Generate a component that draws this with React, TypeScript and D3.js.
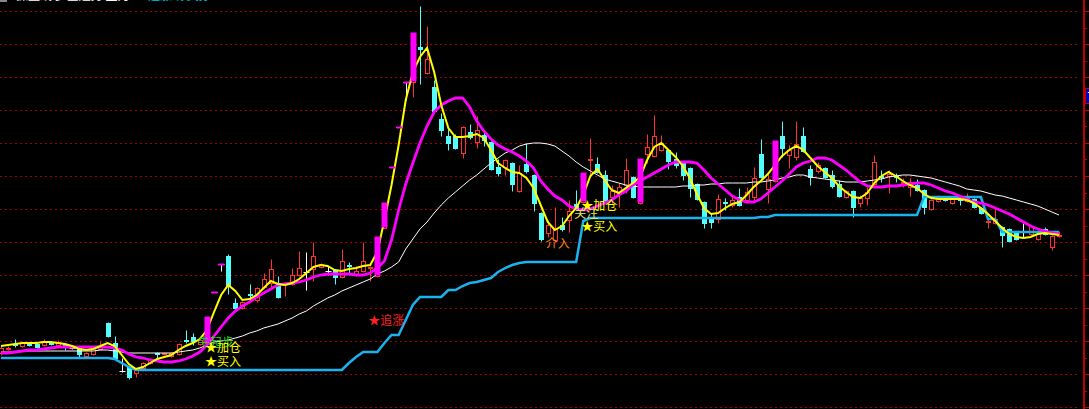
import React from 'react';
import * as d3 from 'd3';

const W = 1089;
const H = 409;

// ---- Candles (price) ----
const openP = [4.47,4.51,4.56,4.54,4.57,4.56,4.55,4.58,4.55,4.56, 4.52,4.52,4.44,4.46,4.51,4.77,4.57,4.29,4.33,4.27,
  4.32,4.37,4.47,4.46,4.44,4.46,4.60,4.63,4.56,4.57, 5.08,5.36,5.44,4.97,4.92,5.06,5.00,5.13,5.17,5.17,
  5.16,5.16,5.25,5.28,5.31,5.33,5.29,5.30,5.23,5.35, 5.25,5.29,5.32,5.24,5.72,6.33,6.73,7.18,7.18,7.53,
  7.27,7.13,6.81,6.64,6.64,6.47,6.68,6.58,6.65,6.58, 6.33,6.33,6.37,6.09,6.36,6.25,5.87,5.67,5.60,5.75,
  5.80,5.96,5.98,6.40,6.36,6.25,6.03,6.06,6.15,6.23, 5.97,6.46,6.44,6.50,6.50,6.41,6.37,6.32,6.16,5.98,
  5.83,5.81,5.98,5.95,6.03,6.00,6.03,6.46,6.11,6.19, 6.64,6.45,6.43,6.64,6.31,6.29,6.32,6.25,6.16,6.03,
  6.09,5.97,6.02,6.16,6.24,6.24,6.24,6.17,6.13,6.15, 6.10,5.91,5.99,6.03,5.97,6.01,5.99,6.01,5.92,5.78,
  5.77,5.73,5.71,5.67,5.68,5.66,5.61,5.71,5.53,5.64];
const highP = [4.54,4.54,4.61,4.58,4.58,4.57,4.61,4.59,4.60,4.57, 4.53,4.53,4.48,4.53,4.59,4.78,4.64,4.42,4.34,4.31,
  4.38,4.42,4.48,4.48,4.48,4.57,4.70,4.67,4.61,4.83, 5.08,5.36,5.46,5.02,4.99,5.16,5.13,5.27,5.41,5.24,
  5.18,5.32,5.49,5.48,5.58,5.37,5.34,5.31,5.51,5.38, 5.34,5.58,5.34,5.63,5.97,6.33,6.73,7.18,7.67,7.94,
  7.74,7.20,6.87,6.72,6.66,6.74,6.76,6.84,6.70,6.59, 6.41,6.41,6.38,6.35,6.57,6.26,5.88,5.80,5.93,5.83,
  6.00,6.10,6.27,6.62,6.43,6.30,6.15,6.17,6.42,6.24, 6.41,6.66,6.85,6.65,6.51,6.48,6.38,6.33,6.17,5.99,
  5.87,6.06,6.02,6.05,6.12,6.13,6.33,6.61,6.27,6.59, 6.79,6.55,6.79,6.73,6.35,6.38,6.33,6.30,6.20,6.10,
  6.10,6.05,6.13,6.45,6.30,6.30,6.27,6.22,6.22,6.21, 6.11,6.01,6.05,6.04,6.04,6.03,6.07,6.02,5.93,5.82,
  5.93,5.74,5.72,5.68,5.77,5.75,5.70,5.73,5.65,5.69];
const lowP = [4.45,4.50,4.53,4.53,4.54,4.52,4.54,4.55,4.54,4.50, 4.51,4.43,4.43,4.45,4.50,4.63,4.41,4.28,4.21,4.23,
  4.31,4.36,4.42,4.45,4.43,4.45,4.57,4.55,4.55,4.56, 5.08,5.29,5.06,4.88,4.91,4.98,4.98,5.12,5.13,5.02,
  5.04,5.15,5.24,5.10,5.19,5.32,5.25,5.16,5.22,5.25, 5.24,5.28,5.19,5.23,5.72,6.33,6.73,7.00,7.03,7.16,
  7.26,6.88,6.64,6.50,6.51,6.42,6.61,6.52,6.54,6.30, 6.24,6.25,6.09,6.08,6.27,5.89,5.59,5.63,5.58,5.69,
  5.68,5.91,5.97,6.23,6.27,5.99,5.97,5.93,6.07,6.02, 5.96,6.37,6.43,6.49,6.31,6.32,6.20,6.03,6.00,5.72,
  5.72,5.77,5.90,5.93,5.94,5.97,5.98,6.22,5.97,6.18, 6.43,6.32,6.40,6.48,6.15,6.27,6.22,6.12,6.03,6.02,
  5.83,5.93,5.95,6.15,6.18,6.07,6.18,6.13,6.04,6.09, 5.86,5.90,5.98,5.99,5.96,5.95,5.98,5.92,5.86,5.72,
  5.76,5.53,5.58,5.60,5.63,5.65,5.60,5.65,5.50,5.63];
const closeP = [4.52,4.52,4.55,4.57,4.55,4.53,4.59,4.56,4.58,4.53, 4.52,4.46,4.47,4.52,4.54,4.64,4.42,4.29,4.23,4.30,
  4.37,4.41,4.46,4.47,4.47,4.56,4.59,4.59,4.60,4.83, 5.08,5.36,5.14,4.92,4.98,5.05,5.12,5.21,5.31,5.03,
  5.17,5.25,5.32,5.28,5.44,5.36,5.29,5.23,5.39,5.34, 5.29,5.39,5.33,5.63,5.97,6.33,6.73,7.18,7.67,7.51,
  7.41,6.89,6.70,6.57,6.52,6.73,6.63,6.70,6.60,6.31, 6.27,6.40,6.16,6.27,6.29,5.97,5.61,5.75,5.72,5.71,
  5.89,5.92,6.27,6.41,6.28,6.00,6.09,6.13,6.30,6.03, 6.41,6.53,6.64,6.57,6.39,6.35,6.25,6.12,6.01,5.77,
  5.78,6.01,5.97,6.00,5.95,6.08,6.22,6.23,6.21,6.59, 6.52,6.50,6.56,6.49,6.23,6.35,6.23,6.14,6.04,6.09,
  5.93,6.02,6.08,6.38,6.23,6.26,6.23,6.18,6.18,6.10, 5.93,6.00,6.02,6.00,6.01,6.00,6.02,5.93,5.87,5.79,
  5.81,5.65,5.59,5.61,5.68,5.74,5.66,5.66,5.64,5.65];

// days highlighted by the strong-rise bar indicator
const strongUpDays = [29, 30, 31, 53, 54, 55, 56, 57, 58, 82, 90, 109];

// ---- Indicator lines (price) ----
const yellowLine = [4.54,4.55,4.56,4.57,4.57,4.57,4.58,4.58,4.57,4.56, 4.54,4.51,4.50,4.51,4.54,4.57,4.54,4.45,4.36,4.31,
  4.33,4.37,4.41,4.43,4.45,4.50,4.54,4.57,4.61,4.70, 4.88,5.05,5.15,5.09,5.00,5.01,5.05,5.12,5.19,5.16,
  5.15,5.17,5.21,5.27,5.33,5.35,5.34,5.30,5.29,5.31, 5.32,5.34,5.35,5.48,5.80,6.15,6.55,7.00,7.28,7.43,
  7.52,7.28,6.95,6.72,6.63,6.63,6.64,6.66,6.62,6.50, 6.37,6.32,6.28,6.27,6.22,6.12,5.95,5.78,5.70,5.74,
  5.84,5.92,6.05,6.24,6.31,6.20,6.10,6.07,6.12,6.17, 6.23,6.40,6.53,6.57,6.50,6.43,6.34,6.22,6.06,5.92,
  5.86,5.87,5.92,5.96,5.98,6.05,6.13,6.19,6.26,6.35, 6.44,6.50,6.54,6.50,6.42,6.34,6.28,6.22,6.14,6.08,
  6.03,6.02,6.07,6.17,6.24,6.28,6.24,6.19,6.15,6.12, 6.06,6.02,6.01,6.01,6.01,6.01,6.00,5.97,5.92,5.86,
  5.79,5.72,5.66,5.63,5.62,5.63,5.66,5.67,5.66,5.65];
const magentaLine = [4.47,4.47,4.48,4.49,4.50,4.50,4.51,4.52,4.53,4.53, 4.53,4.53,4.53,4.53,4.53,4.53,4.52,4.50,4.46,4.43,
  4.42,4.40,4.39,4.38,4.38,4.39,4.41,4.44,4.48,4.55, 4.64,4.73,4.82,4.89,4.94,4.98,5.03,5.07,5.11,5.15,
  5.16,5.17,5.18,5.20,5.23,5.25,5.26,5.26,5.26,5.26, 5.25,5.25,5.27,5.32,5.39,5.60,5.90,6.16,6.37,6.57,
  6.74,6.88,6.95,6.99,7.02,7.02,6.93,6.79,6.69,6.61, 6.55,6.51,6.48,6.44,6.39,6.32,6.19,6.11,6.04,6.00,
  5.94,5.91,5.90,5.91,5.94,5.97,6.00,6.05,6.09,6.15, 6.19,6.23,6.27,6.31,6.35,6.38,6.38,6.38,6.37,6.30,
  6.22,6.16,6.10,6.04,6.00,5.98,5.98,6.01,6.07,6.13, 6.19,6.26,6.33,6.37,6.39,6.42,6.42,6.40,6.35,6.30,
  6.24,6.18,6.14,6.13,6.13,6.14,6.14,6.15,6.16,6.17, 6.17,6.15,6.12,6.09,6.07,6.04,6.01,5.98,5.97,5.95,
  5.92,5.89,5.86,5.82,5.78,5.74,5.71,5.69,5.67,5.66];
const whiteLine = [4.48,4.48,4.48,4.49,4.49,4.49,4.49,4.49,4.49,4.49, 4.49,4.49,4.49,4.49,4.50,4.50,4.49,4.48,4.47,4.47,
  4.47,4.47,4.47,4.47,4.47,4.48,4.49,4.50,4.52,4.55, 4.58,4.59,4.60,4.62,4.64,4.67,4.69,4.72,4.74,4.76,
  4.79,4.82,4.86,4.89,4.94,4.98,5.02,5.05,5.09,5.12, 5.15,5.18,5.21,5.26,5.29,5.33,5.38,5.51,5.61,5.71,
  5.78,5.87,5.95,6.02,6.08,6.14,6.20,6.25,6.31,6.37, 6.42,6.47,6.50,6.54,6.56,6.57,6.57,6.56,6.54,6.49,
  6.44,6.38,6.33,6.29,6.25,6.21,6.19,6.17,6.15,6.14, 6.13,6.13,6.13,6.13,6.13,6.13,6.14,6.14,6.15,6.15,
  6.16,6.16,6.17,6.17,6.17,6.17,6.18,6.18,6.19,6.20, 6.22,6.23,6.25,6.25,6.23,6.22,6.21,6.20,6.19,6.18,
  6.18,6.18,6.19,6.20,6.21,6.23,6.24,6.25,6.25,6.24, 6.23,6.22,6.20,6.18,6.16,6.14,6.11,6.10,6.09,6.07,
  6.05,6.04,6.02,6.00,5.98,5.96,5.94,5.91,5.88,5.85];
const stopLine = [4.42,4.42,4.42,4.42,4.42,4.42,4.42,4.42,4.42,4.42, 4.42,4.42,4.42,4.42,4.42,4.42,4.41,4.37,4.33,4.30,
  4.30,4.30,4.30,4.30,4.30,4.30,4.30,4.30,4.30,4.30, 4.30,4.30,4.30,4.30,4.30,4.30,4.30,4.30,4.30,4.30,
  4.30,4.30,4.30,4.30,4.30,4.30,4.30,4.30,4.30,4.37, 4.43,4.48,4.48,4.48,4.57,4.65,4.65,4.80,4.95,5.03,
  5.03,5.03,5.03,5.10,5.10,5.14,5.17,5.18,5.20,5.22, 5.28,5.32,5.35,5.37,5.38,5.38,5.38,5.38,5.38,5.38,
  5.38,5.38,5.79,5.82,5.82,5.82,5.82,5.82,5.82,5.82, 5.82,5.82,5.82,5.82,5.82,5.82,5.82,5.82,5.82,5.82,
  5.82,5.82,5.82,5.82,5.82,5.82,5.82,5.83,5.83,5.85, 5.85,5.85,5.85,5.85,5.85,5.85,5.85,5.85,5.85,5.85,
  5.85,5.85,5.85,5.85,5.85,5.85,5.85,5.85,5.85,5.85, 6.03,6.03,6.03,6.03,6.03,6.03,6.03,6.03,6.03,5.81,
  5.81,5.68,5.68,5.68,5.68,5.68,5.68,5.68,5.68,5.68];

// horizontal reference levels (dotted grid)
const gridPrices = [7.89, 7.56, 7.23, 6.90, 6.57, 6.24, 5.91, 5.58, 5.25, 4.92, 4.59, 4.26, 3.93];

// signal texts: [day index, price, text, colour]
const signalDay = [28, 29, 29, 52, 77, 81, 82, 82];
const signalPrice = [4.53, 4.48, 4.34, 4.75, 5.52, 5.82, 5.90, 5.69];
const signalText = ['牛起步', '★加仓', '★买入', '★追涨', '介入', '关注', '★加仓', '★买入'];
const signalColor = ['#22DD22', '#FFFF00', '#FFFF00', '#FF2020', '#F08A10', '#E6E070', '#FFFF00', '#FFFF00'];

const markerLabel = '7.05';

const RED = '#FF3232';
const CYAN = '#54FCFC';
const MAGENTA = '#FF00FF';
const YELLOW = '#FFFF00';
const BLUE = '#1CB2EE';
const GRID = '#A80000';
const CJK = '"Noto Sans CJK SC", "Noto Sans", sans-serif';

export default function App() {
  const n = closeP.length;
  const x = d3.scaleLinear().domain([0, n - 1]).range([1, 1059]);
  const y = d3.scaleLinear().domain([3.91, 8.0]).range([H, 0]);
  const px = (i: number) => Math.round(x(i)) + 0.5;
  const py = (v: number) => Math.round(y(v)) + 0.5;

  const mk = (arr: number[]) =>
    d3.line<number>().x((_, i) => x(i)).y((v) => y(v)).curve(d3.curveLinear)(arr) || '';

  const strongSet = new Set(strongUpDays);
  const axisX = 1084;

  return (
    <svg width={W} height={H} style={{ position: 'absolute', left: 0, top: 0, background: '#000', display: 'block' }}>
      <rect x={0} y={0} width={W} height={H} fill="#000" />

      {/* title strip (clipped at top) */}
      <rect x={0} y={-6} width={7} height={8} fill="#888" />
      <text x={16} y={-0.5} fill="#fff" fontSize={12} fontFamily={CJK}>操盘线 多空趋势 主力</text>
      <text x={148} y={-0.5} fill="#00C8F0" fontSize={12} fontFamily={CJK}>追涨线 支撑</text>

      {/* dotted grid */}
      {gridPrices.map((g, k) => (
        <line key={'g' + k} x1={0} x2={1080} y1={py(g)} y2={py(g)} stroke={GRID} strokeWidth={1} strokeDasharray="2,3" />
      ))}

      {/* right axis */}
      <line x1={axisX} x2={axisX} y1={0} y2={H} stroke="#C00000" strokeWidth={2} />
      {gridPrices.map((g, k) => (
        <line key={'t' + k} x1={axisX} x2={W} y1={py(g)} y2={py(g)} stroke="#C00000" strokeWidth={1} />
      ))}
      {gridPrices.slice(0, -1).map((g, k) => (
        <line key={'m' + k} x1={axisX} x2={axisX + 3} y1={Math.round((y(g) + y(gridPrices[k + 1])) / 2) + 0.5} y2={Math.round((y(g) + y(gridPrices[k + 1])) / 2) + 0.5} stroke="#C00000" strokeWidth={1} />
      ))}
      <rect x={1085.5} y={88.5} width={8} height={15} fill="#0000B0" stroke="#C00000" strokeWidth={1} />
      <text x={1087} y={100} fill="#fff" fontSize={11} fontFamily="DejaVu Sans, sans-serif">{markerLabel}</text>

      {/* candles */}
      {closeP.map((c, i) => {
        const o = openP[i];
        const cx = px(i);
        const yo = py(o), yc = py(c), yh = py(highP[i]), yl = py(lowP[i]);
        const top = Math.min(yo, yc);
        const bot = Math.max(yo, yc);
        if (c > o) {
          return (
            <g key={'c' + i} stroke={RED} strokeWidth={1}>
              {yh < top && <line x1={cx} x2={cx} y1={yh} y2={top} />}
              {yl > bot && <line x1={cx} x2={cx} y1={bot} y2={yl} />}
              <rect x={cx - 2} y={top} width={4} height={Math.max(bot - top, 0.01)} fill="#000" />
            </g>
          );
        }
        if (c < o) {
          return (
            <g key={'c' + i}>
              <line x1={cx} x2={cx} y1={yh} y2={yl} stroke={CYAN} strokeWidth={1} />
              <rect x={cx - 2.5} y={top - 0.5} width={5} height={Math.max(bot - top, 1) + 1} fill={CYAN} />
            </g>
          );
        }
        return (
          <g key={'c' + i} stroke="#FFFFFF" strokeWidth={1}>
            <line x1={cx} x2={cx} y1={yh} y2={yl} />
            <line x1={cx - 3} x2={cx + 3} y1={yo} y2={yo} />
          </g>
        );
      })}

      {/* indicator lines */}
      <path d={mk(whiteLine)} fill="none" stroke="#FFFFFF" strokeWidth={1} />
      <path d={mk(stopLine)} fill="none" stroke={BLUE} strokeWidth={2.5} />
      <path d={mk(magentaLine)} fill="none" stroke={MAGENTA} strokeWidth={2.8} />
      <path d={mk(yellowLine)} fill="none" stroke={YELLOW} strokeWidth={2} />

      {/* strong-rise bars */}
      {closeP.map((c, i) => {
        if (!strongSet.has(i)) return null;
        const cx = px(i);
        const top = Math.min(y(openP[i]), y(c));
        const bot = Math.max(y(openP[i]), y(c));
        return <rect key={'s' + i} x={cx - 3} y={Math.round(top) - 0.5} width={6} height={Math.max(bot - top, 2)} fill={MAGENTA} />;
      })}

      {/* signal texts */}
      {signalText.map((t, k) => (
        <text key={'sig' + k} x={x(signalDay[k]) - 2} y={y(signalPrice[k])} fill={signalColor[k]} fontSize={12} fontFamily={CJK}>
          {t}
        </text>
      ))}
    </svg>
  );
}
